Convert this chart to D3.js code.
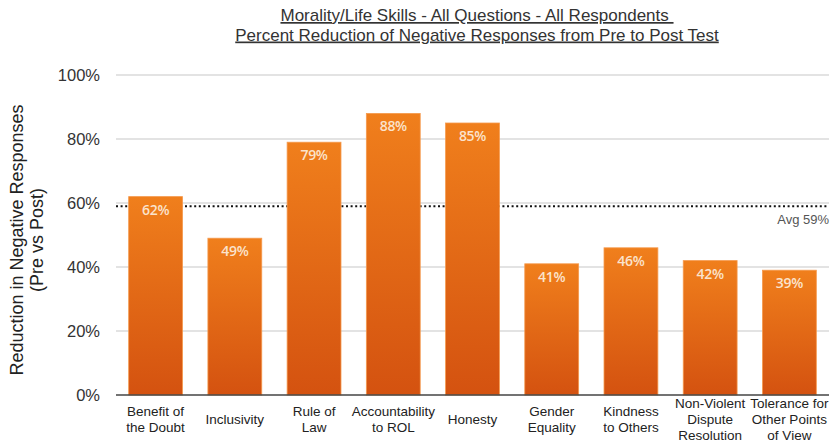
<!DOCTYPE html>
<html>
<head>
<meta charset="utf-8">
<script src="https://cdn.jsdelivr.net/npm/d3@7"></script>
<style>
  html, body { margin: 0; padding: 0; background: #fff; }
  svg { display: block; }
</style>
</head>
<body>
<svg id="chart" width="835" height="442"></svg>
<script>
// Chart data
const categories = [
  ["Benefit of", "the Doubt"],
  ["Inclusivity"],
  ["Rule of", "Law"],
  ["Accountability", "to ROL"],
  ["Honesty"],
  ["Gender", "Equality"],
  ["Kindness", "to Others"],
  ["Non-Violent", "Dispute", "Resolution"],
  ["Tolerance for", "Other Points", "of View"]
];
const values = [62, 49, 79, 88, 85, 41, 46, 42, 39];
const average = 59;
const yTicks = [0, 20, 40, 60, 80, 100];
const titleLines = [
  "Morality/Life Skills - All Questions - All Respondents ",
  "Percent Reduction of Negative Responses from Pre to Post Test"
];
const yTitleLines = ["Reduction in Negative Responses", "(Pre vs Post)"];

(function drawChart() {
  const svg = d3.select("#chart");
  const plotLeft = 116, plotRight = 829, plotTop = 75, plotBottom = 395;
  const sans = "Liberation Sans, Arial, sans-serif";

  const x = d3.scaleBand()
    .domain(d3.range(values.length))
    .range([plotLeft, plotRight])
    .paddingInner(0.32)
    .paddingOuter(0.16);

  const y = d3.scaleLinear().domain([0, 100]).range([plotBottom, plotTop]);

  // Bar gradient
  const defs = svg.append("defs");
  const grad = defs.append("linearGradient")
    .attr("id", "barGrad").attr("x1", 0).attr("y1", 0).attr("x2", 0).attr("y2", 1);
  grad.append("stop").attr("offset", "0%").attr("stop-color", "#F07F1C");
  grad.append("stop").attr("offset", "100%").attr("stop-color", "#D45210");

  // Gridlines
  svg.append("g")
    .selectAll("line")
    .data(yTicks.filter(t => t > 0))
    .join("line")
    .attr("x1", plotLeft).attr("x2", plotRight)
    .attr("y1", d => y(d)).attr("y2", d => y(d))
    .attr("stroke", "#c8c8c8").attr("stroke-width", 1.2);

  // Y axis labels
  const yAxis = svg.append("g")
    .attr("transform", `translate(${plotLeft},0)`)
    .call(d3.axisLeft(y).tickValues(yTicks).tickFormat(d => d + "%").tickSize(0).tickPadding(16));
  yAxis.select(".domain").remove();
  yAxis.selectAll("text")
    .attr("font-family", sans)
    .attr("font-size", 16.5)
    .attr("fill", "#333");

  // Average line (sits behind the bars)
  svg.append("line")
    .attr("x1", plotLeft).attr("x2", plotRight)
    .attr("y1", y(average)).attr("y2", y(average))
    .attr("stroke", "#111").attr("stroke-width", 2)
    .attr("stroke-dasharray", "2,2.6");
  svg.append("text")
    .attr("x", plotRight).attr("y", y(average) + 18)
    .attr("text-anchor", "end")
    .attr("font-family", sans)
    .attr("font-size", 13)
    .attr("fill", "#555")
    .text("Avg " + average + "%");

  // Bars
  svg.append("g")
    .selectAll("rect")
    .data(values)
    .join("rect")
    .attr("x", (d, i) => x(i))
    .attr("width", x.bandwidth())
    .attr("y", d => y(d))
    .attr("height", d => plotBottom - y(d))
    .attr("fill", "url(#barGrad)")
    .attr("stroke", "#F59A4E")
    .attr("stroke-width", 0.8);

  // Value labels
  svg.append("g")
    .selectAll("text")
    .data(values)
    .join("text")
    .attr("x", (d, i) => x(i) + x.bandwidth() / 2)
    .attr("y", d => y(d) + 18)
    .attr("text-anchor", "middle")
    .attr("font-family", "Open Sans, sans-serif")
    .attr("font-size", 14)
    .attr("font-weight", 600)
    .attr("letter-spacing", -0.3)
    .attr("fill", "#FBE3CC")
    .text(d => d + "%");

  // Baseline
  svg.append("line")
    .attr("x1", plotLeft).attr("x2", plotRight)
    .attr("y1", plotBottom).attr("y2", plotBottom)
    .attr("stroke", "#444").attr("stroke-width", 1.3);

  // Category labels
  const lineH = 16;
  svg.append("g")
    .selectAll("text")
    .data(categories)
    .join("text")
    .attr("text-anchor", "middle")
    .attr("font-family", sans)
    .attr("font-size", 13.5)
    .attr("fill", "#222")
    .each(function(lines, i) {
      const cx = x(i) + x.bandwidth() / 2;
      const startY = 424 - (lines.length - 1) * lineH / 2;
      d3.select(this).selectAll("tspan")
        .data(lines)
        .join("tspan")
        .attr("x", cx)
        .attr("y", (l, j) => startY + j * lineH)
        .text(l => l);
    });

  // Y axis title
  svg.append("text")
    .attr("transform", "translate(0,240) rotate(-90)")
    .attr("text-anchor", "middle")
    .attr("font-family", sans)
    .attr("font-size", 18)
    .attr("fill", "#222")
    .selectAll("tspan")
    .data(yTitleLines)
    .join("tspan")
    .attr("x", 0)
    .attr("y", (d, j) => 23 + j * 20)
    .text(d => d);

  // Title
  svg.append("text")
    .attr("text-anchor", "middle")
    .attr("font-family", sans)
    .attr("font-size", 17)
    .attr("fill", "#333")
    .attr("text-decoration", "underline")
    .attr("xml:space", "preserve")
    .style("white-space", "pre")
    .selectAll("tspan")
    .data(titleLines)
    .join("tspan")
    .attr("x", 477)
    .attr("y", (d, j) => 21 + j * 19.5)
    .text(d => d);
})();
</script>
</body>
</html>
